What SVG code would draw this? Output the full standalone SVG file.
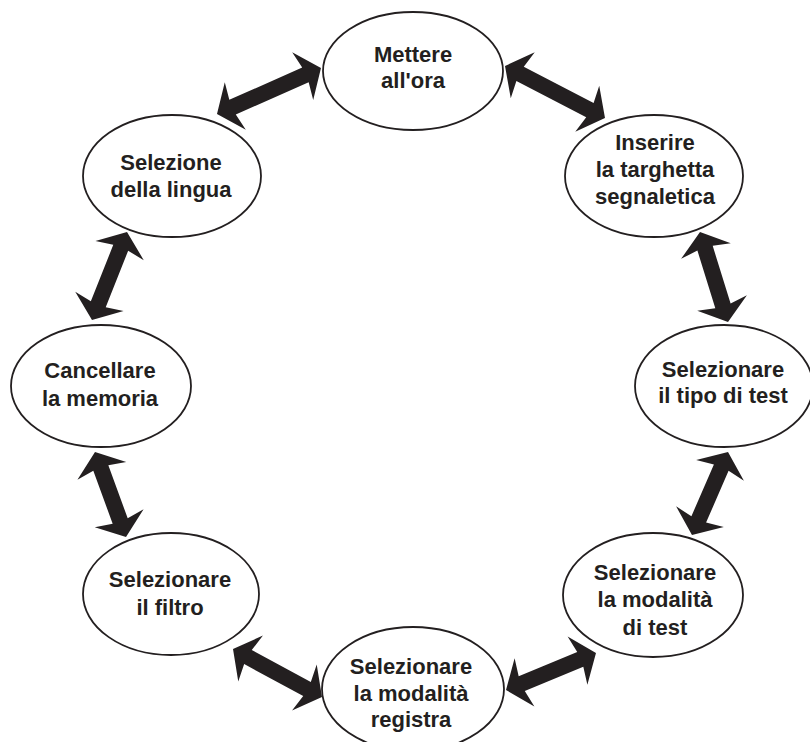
<svg xmlns="http://www.w3.org/2000/svg" width="810" height="742" viewBox="0 0 810 742">
<style>
.n ellipse{fill:#fff;stroke:#231f20;stroke-width:1.8}
.n text{font-family:"Liberation Sans",Arial,Helvetica,sans-serif;font-weight:bold;font-size:22px;fill:#231f20;text-anchor:middle}
.c path{fill:#231f20;stroke:none}
</style>
<rect width="810" height="742" fill="#fff"/>
<g class="c" id="connectors">
<path transform="translate(217,114) rotate(-23.86)" d="M0,0 L20,-26 L17,-8 L96.7,-8 L93.7,-26 L113.7,0 L93.7,26 L96.7,8 L17,8 L20,26 Z"/>
<path transform="translate(505,66) rotate(27.47)" d="M0,0 L20,-26 L17,-8 L95.7,-8 L92.7,-26 L112.7,0 L92.7,26 L95.7,8 L17,8 L20,26 Z"/>
<path transform="translate(700,232) rotate(72.72)" d="M0,0 L20,-26 L17,-8 L77.3,-8 L74.3,-26 L94.3,0 L74.3,26 L77.3,8 L17,8 L20,26 Z"/>
<path transform="translate(728,452) rotate(113.45)" d="M0,0 L20,-26 L17,-8 L73.5,-8 L70.5,-26 L90.5,0 L70.5,26 L73.5,8 L17,8 L20,26 Z"/>
<path transform="translate(506,690) rotate(-22.35)" d="M0,0 L20,-26 L17,-8 L80.3,-8 L77.3,-26 L97.3,0 L77.3,26 L80.3,8 L17,8 L20,26 Z"/>
<path transform="translate(233,649) rotate(28.34)" d="M0,0 L20,-26 L17,-8 L84.1,-8 L81.1,-26 L101.1,0 L81.1,26 L84.1,8 L17,8 L20,26 Z"/>
<path transform="translate(95,452) rotate(69.96)" d="M0,0 L20,-26 L17,-8 L73.5,-8 L70.5,-26 L90.5,0 L70.5,26 L73.5,8 L17,8 L20,26 Z"/>
<path transform="translate(127,232) rotate(111.69)" d="M0,0 L20,-26 L17,-8 L77.7,-8 L74.7,-26 L94.7,0 L74.7,26 L77.7,8 L17,8 L20,26 Z"/>
</g>
<g class="n" id="mettere">
<ellipse cx="413" cy="71" rx="90" ry="59"/>
<text x="413" y="62">Mettere</text>
<text x="413" y="88">all'ora</text>
</g>
<g class="n" id="inserire">
<ellipse cx="654" cy="176" rx="89" ry="61"/>
<text x="655" y="150">Inserire</text>
<text x="655" y="177">la targhetta</text>
<text x="655" y="204">segnaletica</text>
</g>
<g class="n" id="tipo-test">
<ellipse cx="724" cy="386" rx="89" ry="61"/>
<text x="723" y="377">Selezionare</text>
<text x="723" y="403">il tipo di test</text>
</g>
<g class="n" id="modalita-test">
<ellipse cx="653" cy="595" rx="90" ry="62"/>
<text x="655" y="580">Selezionare</text>
<text x="655" y="607">la modalità</text>
<text x="655" y="635">di test</text>
</g>
<g class="n" id="modalita-registra">
<ellipse cx="413" cy="689" rx="91" ry="62"/>
<text x="411" y="674">Selezionare</text>
<text x="411" y="701">la modalità</text>
<text x="411" y="727">registra</text>
</g>
<g class="n" id="filtro">
<ellipse cx="171" cy="594" rx="88" ry="61"/>
<text x="170" y="587">Selezionare</text>
<text x="170" y="615">il filtro</text>
</g>
<g class="n" id="cancellare">
<ellipse cx="101" cy="386" rx="90" ry="61"/>
<text x="100" y="378">Cancellare</text>
<text x="100" y="406">la memoria</text>
</g>
<g class="n" id="lingua">
<ellipse cx="172" cy="176" rx="89" ry="61"/>
<text x="171" y="170">Selezione</text>
<text x="171" y="197">della lingua</text>
</g>
</svg>
